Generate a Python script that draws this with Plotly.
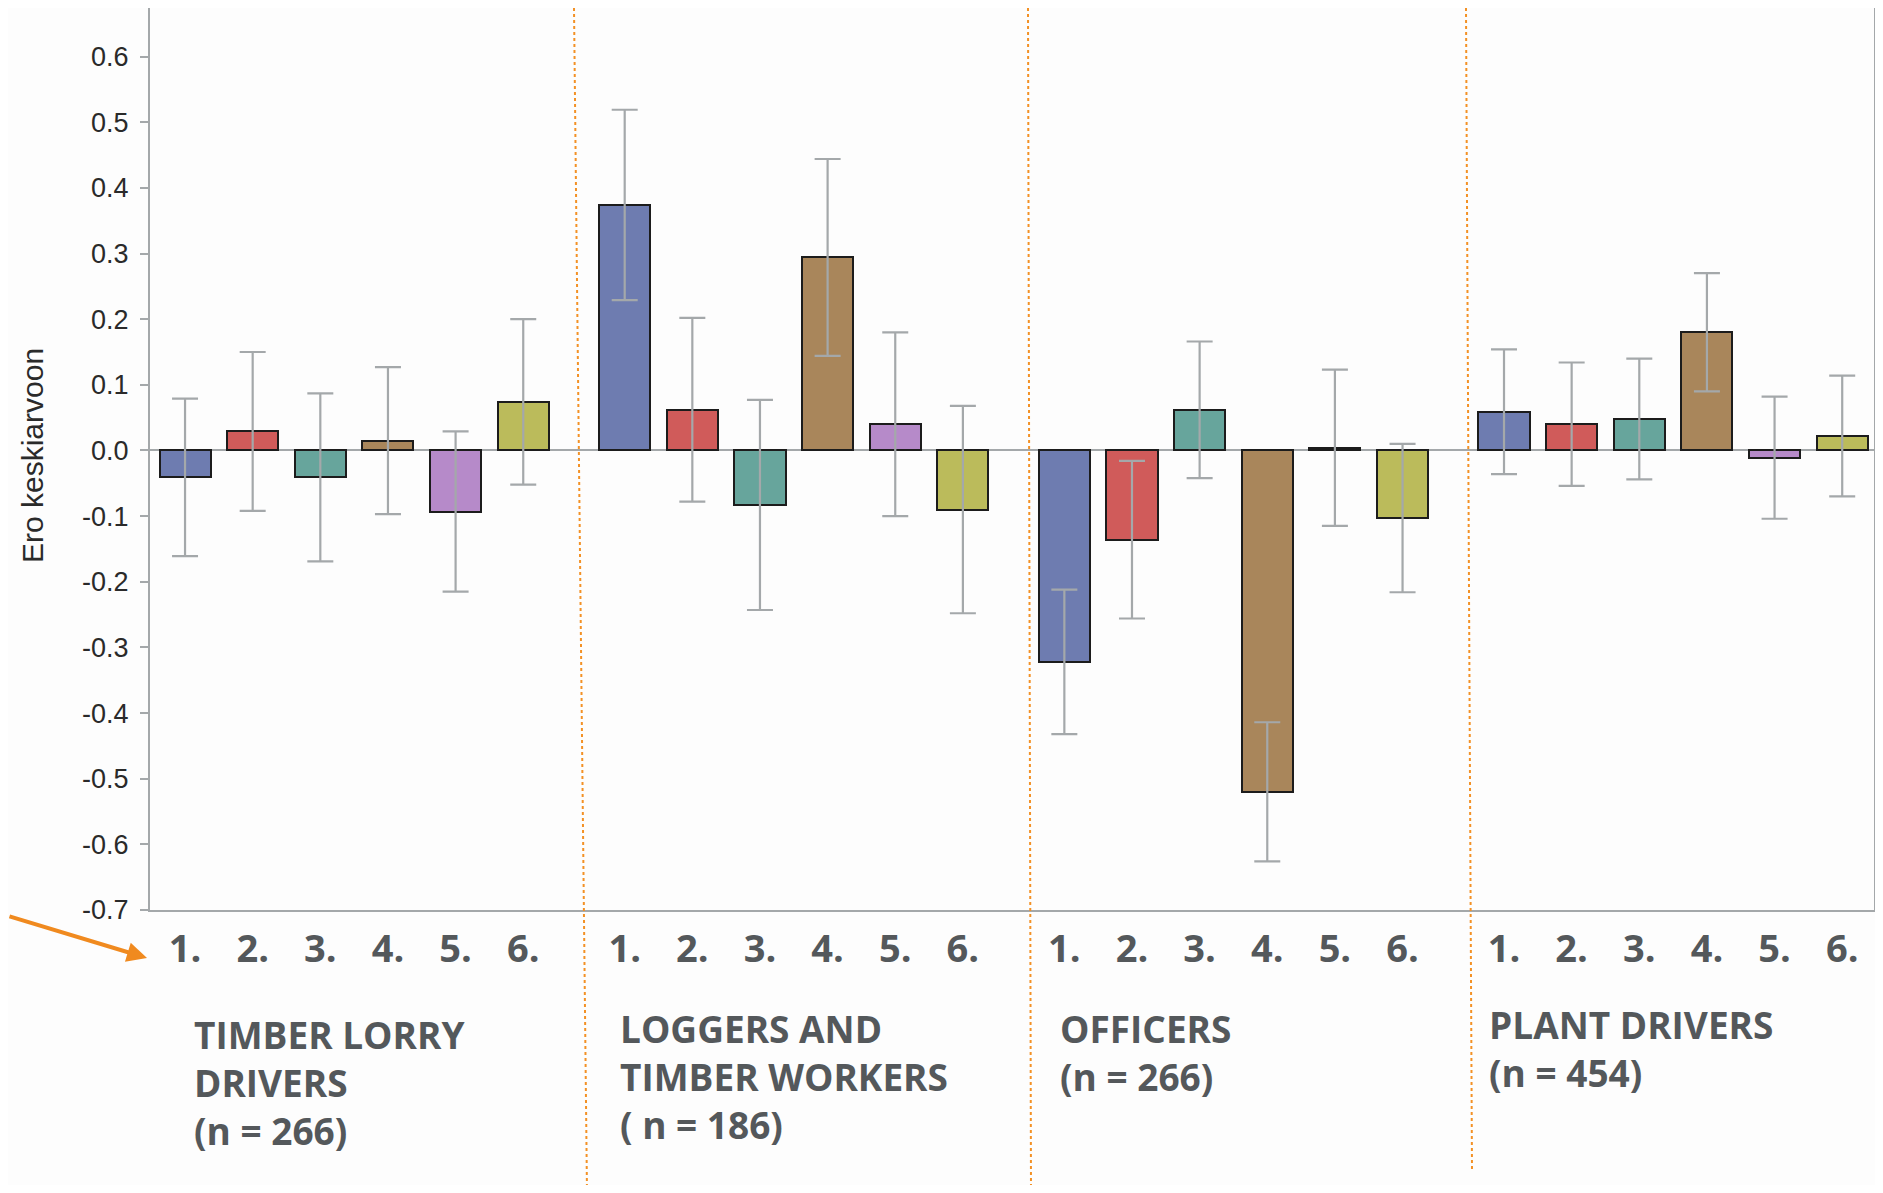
import plotly.graph_objects as go

# ---- data ----
group_names = [
    "TIMBER LORRY<br>DRIVERS<br>(n = 266)",
    "LOGGERS AND<br>TIMBER WORKERS<br>( n = 186)",
    "OFFICERS<br>(n = 266)",
    "PLANT DRIVERS<br>(n = 454)",
]
item_labels = ["1.", "2.", "3.", "4.", "5.", "6."]

timber_lorry = [-0.041, 0.029, -0.041, 0.015, -0.093, 0.074]
loggers = [0.374, 0.062, -0.083, 0.294, 0.040, -0.090]
officers = [-0.322, -0.136, 0.062, -0.520, 0.004, -0.103]
plant = [0.059, 0.040, 0.048, 0.180, -0.011, 0.022]

timber_lorry_err = [0.120, 0.121, 0.128, 0.112, 0.122, 0.126]
loggers_err = [0.145, 0.140, 0.160, 0.150, 0.140, 0.158]
officers_err = [0.110, 0.120, 0.104, 0.106, 0.119, 0.113]
plant_err = [0.095, 0.094, 0.092, 0.090, 0.093, 0.092]

y_tick_vals = [0.6, 0.5, 0.4, 0.3, 0.2, 0.1, 0.0, -0.1, -0.2, -0.3, -0.4, -0.5, -0.6, -0.7]
y_tick_text = ["0.6", "0.5", "0.4", "0.3", "0.2", "0.1", "0.0",
               "-0.1", "-0.2", "-0.3", "-0.4", "-0.5", "-0.6", "-0.7"]

colors = ["#6e7cb0", "#d05b5a", "#67a59c", "#a9865b", "#b68ac9", "#bbbb5b"]

# ---- layout helpers (page has an 8px body margin) ----
OFF = 8
W, H = 1883 - 2 * OFF, 1193 - 2 * OFF
PLOT_L, PLOT_R, PLOT_T, PLOT_B = 150, 1874, 8, 910   # page pixels
L = PLOT_L - OFF
R = W - (PLOT_R - OFF)
T = PLOT_T - OFF
B = H - (PLOT_B - OFF)
PW, PH = PLOT_R - PLOT_L, PLOT_B - PLOT_T
GROUP_STEP = 6.5


def px_x(px):
    return (px - PLOT_L) / PW


def px_y(py):
    return (PLOT_B - py) / PH


groups = [timber_lorry, loggers, officers, plant]
errs = [timber_lorry_err, loggers_err, officers_err, plant_err]

fig = go.Figure()
for k in range(6):
    xs = [g * GROUP_STEP + k for g in range(len(groups))]
    ys = [groups[g][k] for g in range(len(groups))]
    es = [errs[g][k] for g in range(len(groups))]
    fig.add_trace(go.Bar(
        x=xs, y=ys, width=0.755,
        marker=dict(color=colors[k], line=dict(color="#1c1c1c", width=2)),
        error_y=dict(type="data", array=es, visible=True,
                     color="#a4a8aa", thickness=2.2, width=13),
        showlegend=False,
    ))

tick_x = [g * GROUP_STEP + k for g in range(len(groups)) for k in range(6)]
tick_t = [item_labels[k] for g in range(len(groups)) for k in range(6)]

axis_grey = "#a4a8aa"
fig.update_layout(
    width=W, height=H,
    margin=dict(l=L, r=R, t=T, b=B, autoexpand=False),
    paper_bgcolor="#fdfdfd", plot_bgcolor="#fdfdfd",
    bargap=0,
    xaxis=dict(
        range=[-0.518, 24.97], tickvals=tick_x, ticktext=tick_t,
        showgrid=False, zeroline=False,
        showline=True, linecolor=axis_grey, linewidth=2, mirror=True,
        ticks="", ticklabelstandoff=4,
        tickfont=dict(family="Open Sans", size=38, color="#54585b", weight="bold"),
    ),
    yaxis=dict(
        range=[-0.7, 0.674], tickvals=y_tick_vals, ticktext=y_tick_text,
        showgrid=False, zeroline=True, zerolinecolor=axis_grey, zerolinewidth=2,
        showline=True, linecolor=axis_grey, linewidth=2, mirror=True,
        ticks="outside", ticklen=8, tickcolor=axis_grey, tickwidth=2,
        ticklabelstandoff=6,
        tickfont=dict(family="Liberation Sans", size=27, color="#2a2a2a"),
    ),
)

# y-axis title
fig.add_annotation(
    text="Ero keskiarvoon", textangle=-90, showarrow=False,
    xref="paper", yref="paper", x=px_x(32), y=px_y(456),
    xanchor="center", yanchor="middle",
    font=dict(family="Liberation Sans", size=30, color="#2a2a2a"),
)

# group labels
label_pos = [(192, 1007), (618, 1001), (1058, 1001), (1487, 997)]
for name, (lx, ly) in zip(group_names, label_pos):
    fig.add_annotation(
        text=name, showarrow=False, align="left",
        xref="paper", yref="paper", x=px_x(lx), y=px_y(ly),
        xanchor="left", yanchor="top",
        font=dict(family="Open Sans", size=37, color="#54585b", weight="bold"),
    )

# orange dotted separators
for (x0, x1, y1) in [(574, 587, 1193), (1028, 1031, 1193), (1466, 1472, 1172)]:
    fig.add_shape(
        type="line", xref="paper", yref="paper",
        x0=px_x(x0), x1=px_x(x1), y0=1.0, y1=px_y(y1),
        line=dict(color="#f39125", width=2, dash="dot"),
    )

# orange arrow
fig.add_annotation(
    text="", showarrow=True, xref="paper", yref="paper",
    x=px_x(147), y=px_y(958), ax=-150, ay=-42,
    arrowhead=2, arrowsize=1, arrowwidth=4, arrowcolor="#f08a1f",
)

fig.write_html("out.html")
